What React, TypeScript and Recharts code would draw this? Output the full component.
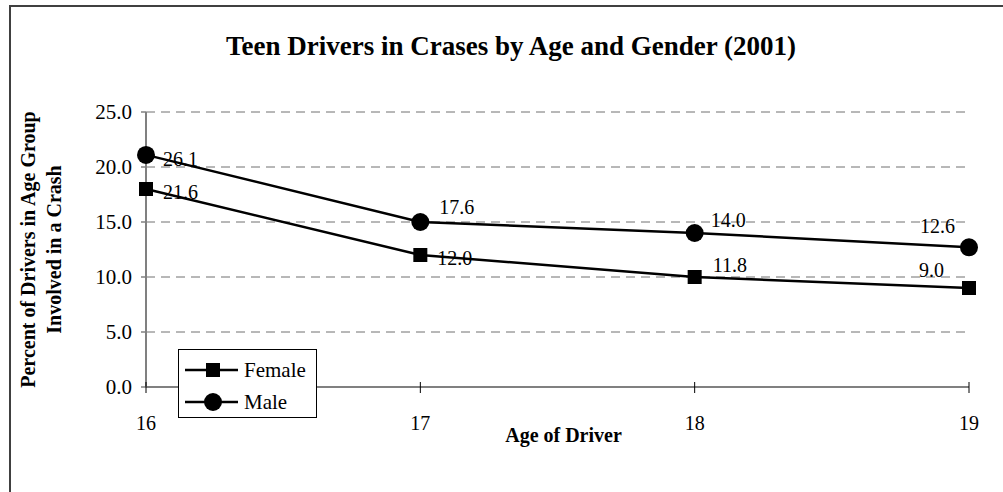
import { LineChart, Line, XAxis, YAxis, CartesianGrid, Legend, LabelList } from "recharts";

const ages = ["16", "17", "18", "19"];
// plotted positions
const femaleValues = [18.0, 12.0, 10.0, 9.0];
const maleValues = [21.1, 15.0, 14.0, 12.7];
// the printed data labels (they do not match the plotted points in the original)
const femaleLabels = ["21.6", "12.0", "11.8", "9.0"];
const maleLabels = ["26.1", "17.6", "14.0", "12.6"];
const yTicks = [0, 5, 10, 15, 20, 25];

// label nudges relative to each point, [dx, dy]
const femaleNudge = [[17, 3], [17, 3], [18, -12], [-50, -18]];
const maleNudge = [[17, 4], [19, -15], [16, -13], [-49, -21]];

const data = ages.map((age, i) => ({ age, female: femaleValues[i], male: maleValues[i] }));

const FONT = '"Liberation Serif", "Times New Roman", serif';
const AXIS = "#808080";

const SquareDot = (props: any) => {
  const { cx, cy } = props;
  if (cx == null || cy == null) return <g />;
  return <rect x={cx - 7} y={cy - 7} width={14} height={14} fill="#000" />;
};

const CircleDot = (props: any) => {
  const { cx, cy } = props;
  if (cx == null || cy == null) return <g />;
  return <circle cx={cx} cy={cy} r={9} fill="#000" />;
};

const makeLabel = (labels: string[], nudge: number[][]) => (props: any) => {
  const { x, y, index } = props;
  const [dx, dy] = nudge[index];
  return (
    <text x={x + dx} y={y + dy} fontSize={20} fontFamily={FONT} fill="#000" dominantBaseline="central">
      {labels[index]}
    </text>
  );
};

const XTick = (props: any) => {
  const { x, y, payload } = props;
  return (
    <g>
      <line x1={x} y1={y - 5} x2={x} y2={y + 6} stroke="#000" strokeWidth={1} />
      <text x={x} y={y + 36} textAnchor="middle" dominantBaseline="central" fontSize={20} fontFamily={FONT} fill="#000">
        {payload.value}
      </text>
    </g>
  );
};

const XLabel = (props: any) => {
  const { viewBox } = props;
  return (
    <text
      x={viewBox.x + viewBox.width / 2 + 6}
      y={viewBox.y + 48}
      textAnchor="middle"
      dominantBaseline="central"
      fontSize={20}
      fontWeight="bold"
      fontFamily={FONT}
      fill="#000"
    >
      Age of Driver
    </text>
  );
};

const YLabel = (props: any) => {
  const { viewBox } = props;
  const cy = viewBox.y + viewBox.height / 2;
  const x1 = viewBox.x - 52;
  const x2 = viewBox.x - 26;
  const style = { fontSize: 20, fontWeight: "bold" as const, fontFamily: FONT, fill: "#000" };
  return (
    <g>
      <text x={x1} y={cy} transform={`rotate(-90 ${x1} ${cy})`} textAnchor="middle" dominantBaseline="central" {...style}>
        Percent of Drivers in Age Group
      </text>
      <text x={x2} y={cy} transform={`rotate(-90 ${x2} ${cy})`} textAnchor="middle" dominantBaseline="central" {...style}>
        Involved in a Crash
      </text>
    </g>
  );
};

const LegendBox = (props: any) => {
  const payload = props.payload || [];
  return (
    <div
      style={{
        width: 139,
        height: 69,
        boxSizing: "border-box",
        border: "1.5px solid #000",
        background: "#fff",
        paddingTop: 4,
        paddingLeft: 6,
        fontFamily: FONT,
        fontSize: 21,
      }}
    >
      {payload.map((entry: any) => (
        <div key={entry.value} style={{ display: "flex", alignItems: "center", height: 32 }}>
          <svg width={59} height={20} style={{ display: "block" }}>
            <line x1={0} y1={10} x2={53} y2={10} stroke="#000" strokeWidth={2.5} />
            {entry.value === "Female" ? (
              <rect x={21} y={3} width={14} height={14} fill="#000" />
            ) : (
              <circle cx={28} cy={10} r={9} fill="#000" />
            )}
          </svg>
          <span style={{ color: "#000", lineHeight: "20px" }}>{entry.value}</span>
        </div>
      ))}
    </div>
  );
};

export default function App() {
  return (
    <div style={{ position: "absolute", left: 0, top: 0, width: 1003, height: 492, overflow: "hidden", background: "#fff" }}>
      <div
        style={{
          position: "absolute",
          left: 9,
          top: 5,
          width: 1100,
          height: 600,
          border: "2px solid #404040",
        }}
      />
      <div
        style={{
          position: "absolute",
          left: 0,
          top: 30,
          width: 1022,
          textAlign: "center",
          fontFamily: FONT,
          fontWeight: "bold",
          fontSize: 27,
          lineHeight: "32px",
          color: "#000",
        }}
      >
        Teen Drivers in Crases by Age and Gender (2001)
      </div>
      <div style={{ position: "absolute", left: 0, top: 0 }}>
        <LineChart width={1003} height={492} data={data} margin={{ top: 112, right: 34, bottom: 55, left: 80 }}>
          <CartesianGrid vertical={false} strokeDasharray="9 6" stroke="#707070" />
          <XAxis
            dataKey="age"
            interval={0}
            height={50}
            tick={XTick}
            tickLine={false}
            tickSize={0}
            tickMargin={0}
            axisLine={{ stroke: AXIS, strokeWidth: 2 }}
            label={{ content: XLabel }}
          />
          <YAxis
            domain={[0, 25]}
            ticks={yTicks}
            interval={0}
            width={66}
            tickFormatter={(v: number) => v.toFixed(1)}
            tick={{ fontSize: 21, fill: "#000", fontFamily: FONT }}
            tickSize={5}
            tickMargin={9}
            tickLine={{ stroke: AXIS, strokeWidth: 1.5 }}
            axisLine={{ stroke: AXIS, strokeWidth: 2 }}
            label={{ content: YLabel }}
          />
          <Legend
            layout="vertical"
            align="center"
            verticalAlign="middle"
            wrapperStyle={{ left: 178, top: 349, width: 139, height: 69 }}
            content={LegendBox}
          />
          <Line
            name="Female"
            dataKey="female"
            stroke="#000"
            strokeWidth={2.5}
            dot={SquareDot}
            activeDot={false}
            isAnimationActive={false}
          >
            <LabelList dataKey="female" content={makeLabel(femaleLabels, femaleNudge)} />
          </Line>
          <Line
            name="Male"
            dataKey="male"
            stroke="#000"
            strokeWidth={2.5}
            dot={CircleDot}
            activeDot={false}
            isAnimationActive={false}
          >
            <LabelList dataKey="male" content={makeLabel(maleLabels, maleNudge)} />
          </Line>
        </LineChart>
      </div>
    </div>
  );
}
